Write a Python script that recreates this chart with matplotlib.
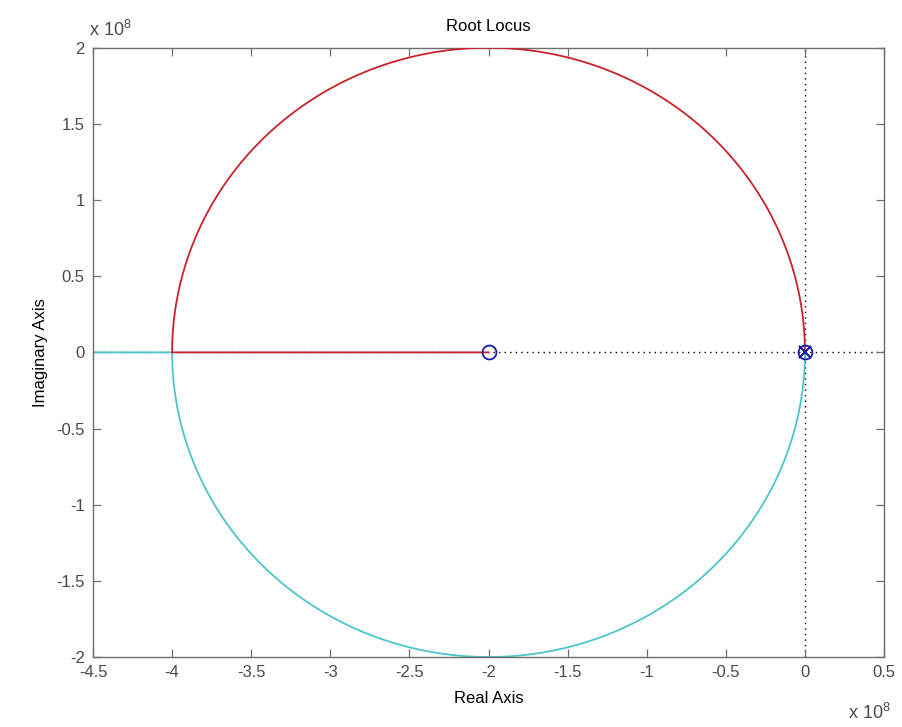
import numpy as np
import matplotlib.pyplot as plt
from matplotlib.ticker import FuncFormatter, MultipleLocator

plt.rcParams['font.family'] = ['Liberation Sans', 'DejaVu Sans']
plt.rcParams['mathtext.fontset'] = 'custom'
plt.rcParams['mathtext.rm'] = 'Liberation Sans'

# open loop system G(s) = (s + 2e8) / s^2, with a pole/zero pair at the origin
poles = [0.0, 0.0]
zeros = [-2e8]
origin_zero = [0.0]
breakin_gain = 8e8

# loop gains at which the closed-loop roots are evaluated,
# packed tighter near the origin and the break-in point
t = np.linspace(0, np.pi / 2, 160)
gains = np.concatenate([breakin_gain * np.sin(t) ** 2,
                        np.geomspace(breakin_gain * 1.0001, 1e13, 60)])

num = np.poly(zeros)
den = np.poly(poles)

upper, lower = [], []
for k in gains:
    r = np.roots(np.polyadd(den, k * num)).astype(complex)
    r = sorted(r, key=lambda z: (-z.imag, -z.real))
    upper.append(r[0])
    lower.append(r[1])
upper = np.array(upper)
lower = np.array(lower)

fig = plt.figure(figsize=(9.03, 7.27), dpi=100)
ax = fig.add_axes([0.103, 0.0963, 0.876, 0.838])

ax.axhline(0, color='black', ls=(0, (1, 3)), lw=1.0, zorder=1)
ax.axvline(0, color='black', ls=(0, (1, 3)), lw=1.0, zorder=1)

ax.plot(upper.real, upper.imag, color='#c8232c', lw=1.3, zorder=3)
ax.plot(lower.real, lower.imag, color='#4cc6c9', lw=1.3, zorder=2)

ax.plot(np.real(poles), np.imag(poles), 'x', color='#1a1aa8', ms=9, mew=1.3, zorder=4)
ax.plot(np.real(zeros + origin_zero), np.imag(zeros + origin_zero), 'o', color='#1a1aa8',
        mfc='none', ms=10, mew=1.3, zorder=4)

ax.set_xlim(-4.5e8, 0.5e8)
ax.set_ylim(-2e8, 2e8)
ax.xaxis.set_major_locator(MultipleLocator(0.5e8))
ax.yaxis.set_major_locator(MultipleLocator(0.5e8))
fmt = FuncFormatter(lambda v, p: '%g' % round(v / 1e8, 2))
ax.xaxis.set_major_formatter(fmt)
ax.yaxis.set_major_formatter(fmt)

gray = '#6e6e6e'
for s in ax.spines.values():
    s.set_color(gray)
    s.set_linewidth(1.0)
ax.tick_params(direction='in', top=True, right=True, length=6, width=0.9,
               color=gray, labelcolor='#4a4a4a', labelsize=12, pad=6)

ax.set_title('Root Locus', fontsize=12, pad=12)
ax.set_xlabel('Real Axis', fontsize=12, labelpad=8)
ax.set_ylabel('Imaginary Axis', fontsize=12, labelpad=6)

# exponent markers for both axes
ax.text(-0.005, 1.012, r'x 10$^{8}$', transform=ax.transAxes, fontsize=13,
        color='#4a4a4a', ha='left', va='bottom')
ax.text(0.955, -0.075, r'x 10$^{8}$', transform=ax.transAxes, fontsize=13,
        color='#4a4a4a', ha='left', va='top')

fig.savefig('out.png', dpi=100)
